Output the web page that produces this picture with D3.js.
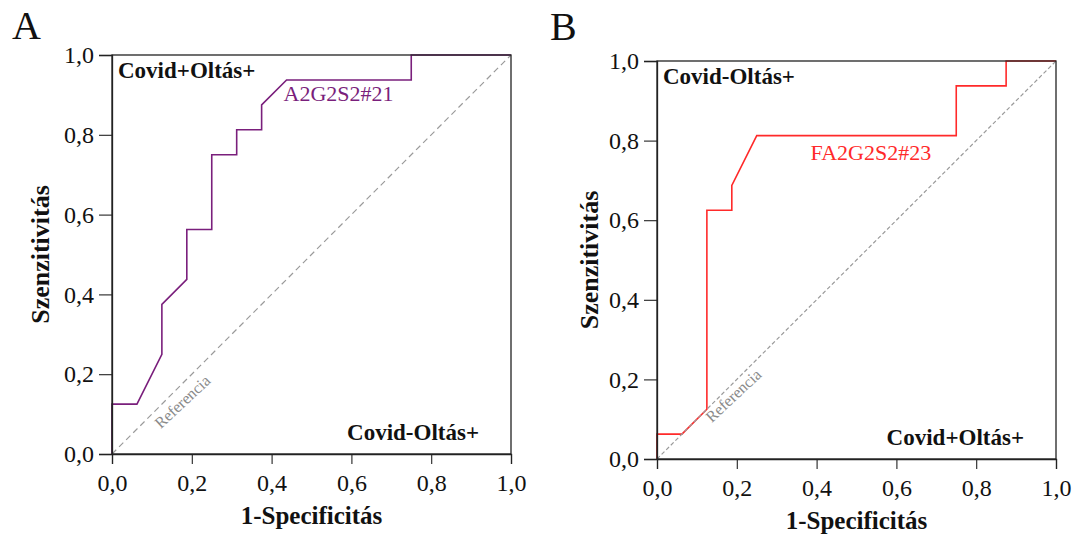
<!DOCTYPE html>
<html>
<head>
<meta charset="utf-8">
<script src="https://cdn.jsdelivr.net/npm/d3@7"></script>
<style>
  html, body { margin: 0; padding: 0; background: #fff; }
  svg { display: block; }
  text { font-family: "Liberation Serif", "DejaVu Serif", serif; }
</style>
</head>
<body>
<svg id="chart" width="1080" height="538"></svg>
<script>
// ---- data ----
const tickValues = [0, 0.2, 0.4, 0.6, 0.8, 1.0];
const panelLetters = ["A", "B"];
const seriesNames = ["A2G2S2#21", "FA2G2S2#23"];
const seriesColors = ["#7a1f7c", "#ff2a2a"];
const topLeftLabels = ["Covid+Oltás+", "Covid-Oltás+"];
const bottomRightLabels = ["Covid-Oltás+", "Covid+Oltás+"];
const xTitle = "1-Specificitás";
const yTitle = "Szenzitivitás";
const refLabel = "Referencia";

// ROC curve A (1-specificity, sensitivity)
const rocA_fpr = [0, 0, 0.0625, 0.125, 0.125, 0.1875, 0.1875, 0.25, 0.25, 0.3125, 0.3125, 0.375, 0.375, 0.4375, 0.75, 0.75, 1];
const rocA_tpr = [0, 0.125, 0.125, 0.25, 0.375, 0.4375, 0.5625, 0.5625, 0.75, 0.75, 0.8125, 0.8125, 0.875, 0.9375, 0.9375, 1, 1];
// ROC curve B
const rocB_fpr = [0, 0, 0.0625, 0.125, 0.125, 0.1875, 0.1875, 0.25, 0.75, 0.75, 0.875, 0.875, 1];
const rocB_tpr = [0, 0.0625, 0.0625, 0.125, 0.625, 0.625, 0.6875, 0.8125, 0.8125, 0.9375, 0.9375, 1, 1];

// ---- layout ----
const svg = d3.select("#chart");
const loc = d3.formatLocale({decimal: ",", thousands: " ", grouping: [3], currency: ["", ""]});
const fmt = loc.format(".1f");

const panels = [
  {left: 112, top: 55, w: 399, h: 399, fpr: rocA_fpr, tpr: rocA_tpr, dash: "6,4",
   letterX: 12, letterY: 39, yTitleX: 49, xTitleY: 524,
   seriesPos: [0.43, 0.885], refPos: [0.122, 0.062]},
  {left: 657, top: 61, w: 399, h: 398, fpr: rocB_fpr, tpr: rocB_tpr, dash: "4,2.5",
   letterX: 550, letterY: 40, yTitleX: 598, xTitleY: 529,
   seriesPos: [0.385, 0.752], refPos: [0.137, 0.09]}
];

panels.forEach((p, i) => {
  const x = d3.scaleLinear().domain([0, 1]).range([p.left, p.left + p.w]);
  const y = d3.scaleLinear().domain([0, 1]).range([p.top + p.h, p.top]);
  const g = svg.append("g");

  // curve
  const pts = p.fpr.map((v, k) => [v, p.tpr[k]]);
  g.append("path")
    .datum(pts)
    .attr("fill", "none")
    .attr("stroke", seriesColors[i])
    .attr("stroke-width", 1.6)
    .attr("stroke-linejoin", "miter")
    .attr("d", d3.line().x(d => x(d[0])).y(d => y(d[1])));

  // reference diagonal
  g.append("line")
    .attr("x1", x(0)).attr("y1", y(0))
    .attr("x2", x(1)).attr("y2", y(1))
    .attr("stroke", "#9a9a9a")
    .attr("stroke-width", 1.2)
    .attr("stroke-dasharray", p.dash);

  // frame
  g.append("rect")
    .attr("x", x(0)).attr("y", y(1))
    .attr("width", x(1) - x(0)).attr("height", y(0) - y(1))
    .attr("fill", "none")
    .attr("stroke", "#222")
    .attr("stroke-width", 1.3);

  // axes
  const xAxis = g.append("g")
    .attr("transform", `translate(0,${y(0)})`)
    .call(d3.axisBottom(x).tickValues(tickValues).tickFormat(fmt).tickSize(10).tickPadding(4));
  const yAxis = g.append("g")
    .attr("transform", `translate(${x(0)},0)`)
    .call(d3.axisLeft(y).tickValues(tickValues).tickFormat(fmt).tickSize(13).tickPadding(5));
  [xAxis, yAxis].forEach(a => {
    a.select(".domain").attr("stroke", "#222").attr("stroke-width", 1.3);
    a.selectAll(".tick line").attr("stroke", "#222").attr("stroke-width", 1.1);
    a.selectAll(".tick text")
      .attr("fill", "#111")
      .style("font-family", '"Liberation Serif", serif')
      .style("font-size", "24px");
  });
  xAxis.selectAll(".tick text").attr("dy", "0.95em");

  // axis titles
  g.append("text")
    .attr("x", (x(0) + x(1)) / 2).attr("y", p.xTitleY)
    .attr("text-anchor", "middle")
    .style("font-size", "25px").style("font-weight", "bold")
    .attr("fill", "#111")
    .text(xTitle);
  g.append("text")
    .attr("transform", `translate(${p.yTitleX},${(y(0) + y(1)) / 2}) rotate(-90)`)
    .attr("text-anchor", "middle")
    .style("font-size", "26px").style("font-weight", "bold")
    .attr("fill", "#111")
    .text(yTitle);

  // panel letter
  g.append("text")
    .attr("x", p.letterX).attr("y", p.letterY)
    .style("font-size", "40px")
    .attr("fill", "#111")
    .text(panelLetters[i]);

  // corner labels
  g.append("text")
    .attr("x", x(0) + 6).attr("y", y(1) + 23)
    .style("font-size", "23px").style("font-weight", "bold")
    .attr("fill", "#111")
    .text(topLeftLabels[i]);
  g.append("text")
    .attr("x", x(1) - 32).attr("y", y(0) - 14)
    .attr("text-anchor", "end")
    .style("font-size", "23px").style("font-weight", "bold")
    .attr("fill", "#111")
    .text(bottomRightLabels[i]);

  // series label
  g.append("text")
    .attr("x", x(p.seriesPos[0])).attr("y", y(p.seriesPos[1]))
    .style("font-size", "22px")
    .attr("fill", seriesColors[i])
    .text(seriesNames[i]);

  // reference label
  g.append("text")
    .attr("transform", `translate(${x(p.refPos[0])},${y(p.refPos[1])}) rotate(-43)`)
    .style("font-size", "16px")
    .attr("fill", "#8a8a8a")
    .text(refLabel);
});
</script>
</body>
</html>
